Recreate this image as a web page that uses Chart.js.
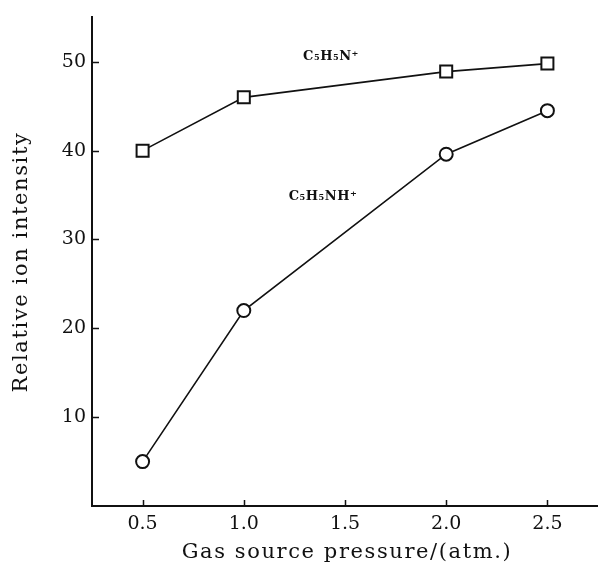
<!DOCTYPE html>
<html>
<head>
<meta charset="utf-8">
<script src="https://cdn.jsdelivr.net/npm/chart.js@4.4.1/dist/chart.umd.min.js"></script>
<style>
  html, body { margin: 0; padding: 0; background: #fff; }
  #wrap { width: 598px; height: 571px; }
</style>
</head>
<body>
<div id="wrap"><canvas id="myChart" width="598" height="571"></canvas></div>
<script>
// data
const pressure = [0.5, 1.0, 2.0, 2.5];
const pyridineIon = [40, 46, 48.9, 49.8];      // C5H5N+
const pyridiniumIon = [5, 22, 39.6, 44.5];     // C5H5NH+
const xTicks = [0.5, 1.0, 1.5, 2.0, 2.5];
const yTicks = [10, 20, 30, 40, 50];

const serif = '"DejaVu Serif", "Liberation Serif", serif';
const ink = '#111';

const toPoints = ys => pressure.map((x, i) => ({ x: x, y: ys[i] }));

// inward ticks, axis titles, and the two curve labels
const decorations = {
  id: 'decorations',
  afterDraw(chart) {
    const ctx = chart.ctx;
    const xs = chart.scales.x, ys = chart.scales.y;
    const area = chart.chartArea;
    ctx.save();
    ctx.strokeStyle = ink;
    ctx.lineWidth = 1.5;
    ctx.beginPath();
    xTicks.forEach(v => {
      const px = Math.round(xs.getPixelForValue(v)) + 0.5;
      ctx.moveTo(px, area.bottom);
      ctx.lineTo(px, area.bottom - 6);
    });
    yTicks.forEach(v => {
      const py = Math.round(ys.getPixelForValue(v)) + 0.5;
      ctx.moveTo(area.left, py);
      ctx.lineTo(area.left + 7, py);
    });
    ctx.stroke();

    ctx.fillStyle = ink;
    ctx.textAlign = 'center';
    ctx.textBaseline = 'middle';

    ctx.font = '21px ' + serif;
    ctx.letterSpacing = '1.6px';
    ctx.fillText('Gas source pressure/(atm.)', 347, 553);

    ctx.translate(22, 262);
    ctx.rotate(-Math.PI / 2);
    ctx.letterSpacing = '1.6px';
    ctx.fillText('Relative ion intensity', 0, 0);
    ctx.restore();

    ctx.save();
    ctx.fillStyle = ink;
    ctx.textAlign = 'center';
    ctx.textBaseline = 'alphabetic';
    ctx.font = 'bold 13px ' + serif;
    ctx.letterSpacing = '0.5px';
    ctx.fillText('C\u2085H\u2085N\u207A', 331, 60);
    ctx.fillText('C\u2085H\u2085NH\u207A', 323, 200);
    ctx.restore();
  }
};

const config = {
  type: 'line',
  data: {
    datasets: [
      {
        label: 'C5H5N+',
        data: toPoints(pyridineIon),
        borderColor: ink,
        borderWidth: 1.6,
        pointStyle: 'rect',
        pointRadius: 8.5,
        pointBorderWidth: 2,
        pointBorderColor: ink,
        pointBackgroundColor: '#fff',
        tension: 0
      },
      {
        label: 'C5H5NH+',
        data: toPoints(pyridiniumIon),
        borderColor: ink,
        borderWidth: 1.6,
        pointStyle: 'circle',
        pointRadius: 6.5,
        pointBorderWidth: 2,
        pointBorderColor: ink,
        pointBackgroundColor: '#fff',
        tension: 0
      }
    ]
  },
  options: {
    responsive: false,
    animation: false,
    layout: { autoPadding: false, padding: { top: 15, right: 0, left: 0, bottom: 0 } },
    plugins: {
      legend: { display: false },
      tooltip: { enabled: false }
    },
    scales: {
      x: {
        type: 'linear',
        min: 0.25,
        max: 2.75,
        afterBuildTicks: scale => { scale.ticks = xTicks.map(v => ({ value: v })); },
        afterFit: scale => { scale.height = 65; },
        grid: { display: false, drawTicks: false },
        border: { display: true, color: ink, width: 2 },
        ticks: {
          padding: 7,
          color: ink,
          font: { family: serif, size: 19 },
          maxRotation: 0,
          callback: v => Number(v).toFixed(1)
        }
      },
      y: {
        min: 0,
        max: 55,
        afterBuildTicks: scale => { scale.ticks = yTicks.map(v => ({ value: v })); },
        afterFit: scale => { scale.width = 92; },
        grid: { display: false, drawTicks: false },
        border: { display: true, color: ink, width: 2 },
        ticks: {
          padding: 6,
          color: ink,
          font: { family: serif, size: 19 }
        }
      }
    }
  },
  plugins: [decorations]
};

new Chart(document.getElementById('myChart'), config);
</script>
</body>
</html>
